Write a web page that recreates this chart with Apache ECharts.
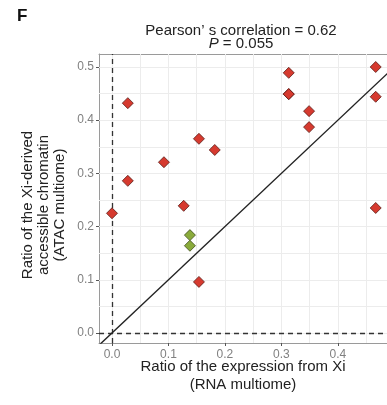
<!DOCTYPE html>
<html>
<head>
<meta charset="utf-8">
<script src="https://cdn.jsdelivr.net/npm/echarts@6/dist/echarts.min.js"></script>
<style>
  html, body { margin: 0; padding: 0; background: #fff; }
  #chart { width: 387px; height: 405px; }
</style>
</head>
<body>
<div id="chart"></div>
<script>
// 红色点 (Xi escape genes)
var redX = [0.000, 0.028, 0.028, 0.092, 0.127, 0.154, 0.154, 0.182, 0.313, 0.313, 0.313, 0.349, 0.349, 0.467, 0.467, 0.467];
var redY = [0.225, 0.432, 0.286, 0.321, 0.239, 0.365, 0.096, 0.344, 0.489, 0.449, 0.449, 0.417, 0.387, 0.500, 0.444, 0.235];
// 绿色点
var greenX = [0.138, 0.138];
var greenY = [0.184, 0.164];
// 刻度标签
var xTicks = [0.0, 0.1, 0.2, 0.3, 0.4];
var yTicks = [0.0, 0.1, 0.2, 0.3, 0.4, 0.5];
// 网格线（主+次）
var xGrid = [0.0, 0.05, 0.1, 0.15, 0.2, 0.25, 0.3, 0.35, 0.4, 0.45];
var yGrid = [0.0, 0.05, 0.1, 0.15, 0.2, 0.25, 0.3, 0.35, 0.4, 0.45, 0.5];
// y = x 参考线端点
var refLine = [[-0.05, -0.05], [0.6, 0.6]];

function pairs(xs, ys) {
  return xs.map(function (x, i) { return [x, ys[i]]; });
}

var chart = echarts.init(document.getElementById('chart'));
var font = 'Liberation Sans, Arial, sans-serif';
var xMin = -0.023, xMax = 0.487;
var borderLine = { show: true, onZero: false, lineStyle: { color: '#9a9a9a', width: 1 } };

var gridLines = xGrid.map(function (v) { return { xAxis: v }; })
  .concat(yGrid.map(function (v) { return { yAxis: v }; }));

var option = {
  animation: false,
  grid: { left: 99, top: 54, right: 0, bottom: 62 },
  xAxis: [{
    type: 'value', min: xMin, max: xMax,
    axisLine: borderLine,
    axisTick: { show: true, length: 3, lineStyle: { color: '#555' }, customValues: xTicks },
    axisLabel: {
      customValues: xTicks, color: '#808080', fontSize: 12, fontFamily: font, margin: 6,
      formatter: function (v) { return v.toFixed(1); }
    },
    splitLine: { show: false }
  }, {
    // 上边框
    type: 'value', position: 'top', min: xMin, max: xMax,
    axisLine: borderLine, axisTick: { show: false }, axisLabel: { show: false },
    splitLine: { show: false }
  }],
  yAxis: {
    type: 'value', min: -0.0188, max: 0.5244,
    axisLine: borderLine,
    axisTick: { show: true, length: 3, lineStyle: { color: '#555' }, customValues: yTicks },
    axisLabel: {
      customValues: yTicks, color: '#808080', fontSize: 12, fontFamily: font, margin: 5,
      formatter: function (v) { return v.toFixed(1); }
    },
    splitLine: { show: false }
  },
  graphic: [
    { type: 'text', left: 17, top: 8,
      style: { text: 'F', font: 'bold 17px ' + font, fill: '#111' } },
    { type: 'text', x: 241, y: 31,
      style: { text: 'Pearson’ s correlation = 0.62', font: '15px ' + font, fill: '#222',
        textAlign: 'center', textVerticalAlign: 'middle' } },
    { type: 'text', x: 241, y: 44,
      style: { text: '{i|P} = 0.055', font: '15px ' + font, fill: '#222',
        textAlign: 'center', textVerticalAlign: 'middle',
        rich: { i: { fontStyle: 'italic', fontSize: 15, fontFamily: font, fill: '#222' } } } },
    { type: 'text', x: 243, y: 367,
      style: { text: 'Ratio of the expression from Xi', font: '15px ' + font, fill: '#222',
        textAlign: 'center', textVerticalAlign: 'middle' } },
    { type: 'text', x: 243, y: 385,
      style: { text: '(RNA multiome)', font: '15px ' + font, fill: '#222',
        textAlign: 'center', textVerticalAlign: 'middle' } },
    { type: 'text', x: 44, y: 205, rotation: Math.PI / 2,
      style: { text: 'Ratio of the Xi-derived\naccessible chromatin\n(ATAC multiome)',
        font: '15px ' + font, fill: '#222', lineHeight: 16,
        textAlign: 'center', textVerticalAlign: 'middle' } }
  ],
  series: [
    {
      // 网格线
      type: 'scatter', data: [], silent: true, z: 1,
      markLine: {
        z: 1, silent: true, symbol: 'none', label: { show: false }, animation: false,
        lineStyle: { color: '#ececec', width: 1, type: 'solid' },
        data: gridLines
      }
    },
    {
      // x=0 与 y=0 虚线
      type: 'scatter', data: [], silent: true, z: 2,
      markLine: {
        z: 2, silent: true, symbol: 'none', label: { show: false }, animation: false,
        lineStyle: { color: '#333', width: 1.3, type: [5, 4] },
        data: [{ xAxis: 0 }, { yAxis: 0 }]
      }
    },
    {
      type: 'line', data: refLine, showSymbol: false, silent: true, clip: true, z: 3,
      lineStyle: { color: '#222', width: 1.4 }
    },
    {
      type: 'scatter', data: pairs(redX, redY), symbol: 'diamond', symbolSize: 11, z: 4,
      itemStyle: { color: '#d63a2f', borderColor: '#5a1c16', borderWidth: 0.8, opacity: 1 }
    },
    {
      type: 'scatter', data: pairs(greenX, greenY), symbol: 'diamond', symbolSize: 11, z: 4,
      itemStyle: { color: '#8aab3b', borderColor: '#3f4d1c', borderWidth: 0.8, opacity: 1 }
    }
  ]
};
chart.setOption(option);
</script>
</body>
</html>
